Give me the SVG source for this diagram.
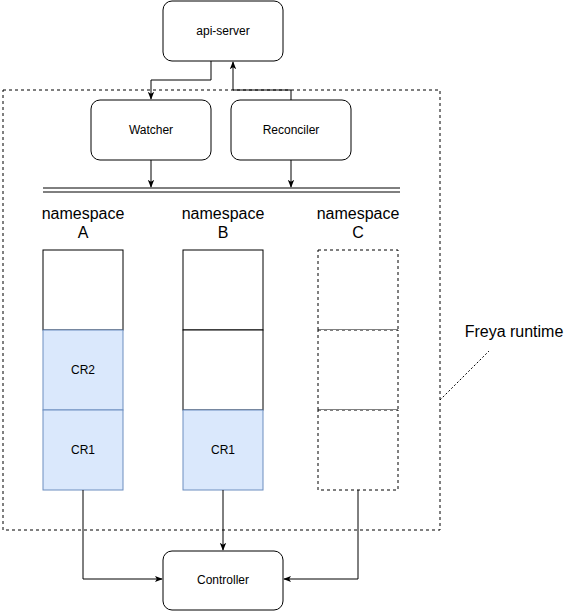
<svg xmlns="http://www.w3.org/2000/svg" width="572" height="612" viewBox="0 0 572 612">
<defs>
<style>
.box{fill:#fff;stroke:#000;stroke-width:1}
.cell{fill:#fff;stroke:#000;stroke-width:1}
.cr{fill:#dae8fc;stroke:#6c8ebf;stroke-width:1}
.dash{fill:#fff;stroke:#000;stroke-width:1;stroke-dasharray:3 3}
.t{font-family:"Liberation Sans",Arial,sans-serif;font-size:12px;fill:#000;text-anchor:middle;dominant-baseline:central}
.big{font-family:"Liberation Sans",Arial,sans-serif;font-size:16px;fill:#000;text-anchor:middle;dominant-baseline:central}
.edge{fill:none;stroke:#000;stroke-width:1}
</style>
<marker id="arr" viewBox="0 0 10 10" refX="9" refY="5" markerWidth="8" markerHeight="8" markerUnits="userSpaceOnUse" orient="auto">
<path d="M0,1 L10,5 L0,9 L2.5,5 Z" fill="#000"/>
</marker>
</defs>
<g id="freya-runtime">
<rect x="3" y="90" width="437" height="440" fill="none" stroke="#000" stroke-dasharray="3 3"/>
<text class="big" x="514" y="331">Freya runtime</text>
</g>
<g id="api-server"><rect class="box" x="163" y="1" width="120" height="60" rx="9"/><text class="t" x="223" y="31">api-server</text></g>
<g id="watcher"><rect class="box" x="91" y="100" width="120" height="60" rx="9"/><text class="t" x="151" y="130">Watcher</text></g>
<g id="reconciler"><rect class="box" x="231" y="100" width="120" height="60" rx="9"/><text class="t" x="291" y="130">Reconciler</text></g>
<g id="bus"><line x1="43" y1="188" x2="400" y2="188" stroke="#000"/><line x1="43" y1="192" x2="400" y2="192" stroke="#000"/></g>
<g id="namespace-a">
<text class="big" x="83" y="213">namespace</text><text class="big" x="83" y="232">A</text>
<rect class="cell" x="43" y="250" width="80" height="80"/>
<rect class="cr" x="43" y="330" width="80" height="80"/><text class="t" x="83" y="370">CR2</text>
<rect class="cr" x="43" y="410" width="80" height="80"/><text class="t" x="83" y="450">CR1</text>
</g>
<g id="namespace-b">
<text class="big" x="223" y="213">namespace</text><text class="big" x="223" y="232">B</text>
<rect class="cell" x="183" y="250" width="80" height="80"/>
<rect class="cell" x="183" y="330" width="80" height="80"/>
<rect class="cr" x="183" y="410" width="80" height="80"/><text class="t" x="223" y="450">CR1</text>
</g>
<g id="namespace-c">
<text class="big" x="358" y="213">namespace</text><text class="big" x="358" y="232">C</text>
<rect class="dash" x="318" y="250" width="80" height="80"/>
<rect class="dash" x="318" y="330" width="80" height="80"/>
<rect class="dash" x="318" y="410" width="80" height="80"/>
</g>
<g id="controller"><rect class="box" x="163" y="551" width="120" height="59" rx="9"/><text class="t" x="223" y="580">Controller</text></g>
<g id="connectors">
<path class="edge" d="M211,61 V80 H151 V99" marker-end="url(#arr)"/>
<path class="edge" d="M291,100 V90 H233 V62" marker-end="url(#arr)"/>
<path class="edge" d="M151,160 V187" marker-end="url(#arr)"/>
<path class="edge" d="M291,160 V187" marker-end="url(#arr)"/>
<path class="edge" d="M83,490 V579 H162" marker-end="url(#arr)"/>
<path class="edge" d="M223,490 V550" marker-end="url(#arr)"/>
<path class="edge" d="M358,490 V579 H284" marker-end="url(#arr)"/>
<path class="edge" d="M440,400 L489,351" stroke-dasharray="2 2"/>
</g>
</svg>
